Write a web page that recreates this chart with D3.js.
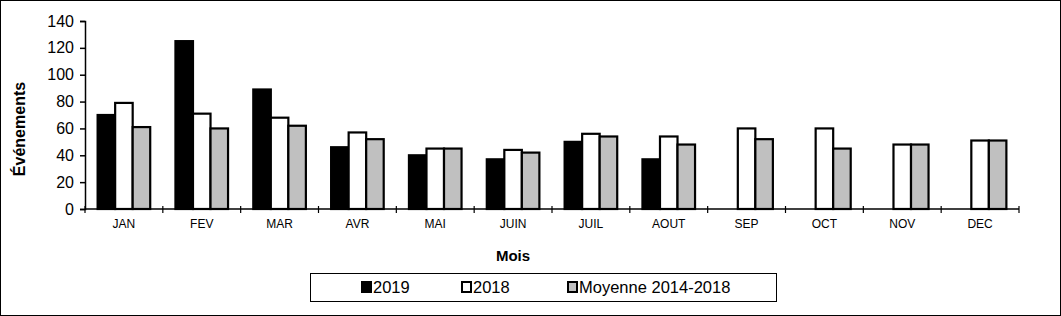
<!DOCTYPE html>
<html>
<head>
<meta charset="utf-8">
<script src="https://cdn.jsdelivr.net/npm/d3@7"></script>
<style>
body { margin: 0; background: #fff; }
svg { font-family: Arial, "Liberation Sans", sans-serif; }
</style>
</head>
<body>
<div id="chart"></div>
<script>
// donnees
var months = ["JAN", "FEV", "MAR", "AVR", "MAI", "JUIN", "JUIL", "AOUT", "SEP", "OCT", "NOV", "DEC"];
var series = ["2019", "2018", "Moyenne 2014-2018"];
var colors = ["#000000", "#ffffff", "#c0c0c0"];
var v2019 = [70, 125, 89, 46, 40, 37, 50, 37, null, null, null, null];
var v2018 = [79, 71, 68, 57, 45, 44, 56, 54, 60, 60, 48, 51];
var vMoy = [61, 60, 62, 52, 45, 42, 54, 48, 52, 45, 48, 51];
var yTicks = [0, 20, 40, 60, 80, 100, 120, 140];

var width = 1061, height = 316;
var plotLeft = 85, plotRight = 1019, plotTop = 21, plotBottom = 209;

var svg = d3.select("#chart").append("svg")
            .attr("width", width)
            .attr("height", height);

svg.append("rect")
   .attr("x", 0.5).attr("y", 0.5)
   .attr("width", width - 1).attr("height", height - 1)
   .style("fill", "#fff")
   .style("stroke", "#000")
   .style("stroke-width", 1);

var x0 = d3.scaleBand().domain(months).range([plotLeft, plotRight]).padding(0);
var x1 = d3.scaleBand().domain(series).range([0, x0.bandwidth()])
           .paddingInner(0).paddingOuter(0.72);
var y = d3.scaleLinear().domain([0, 140]).range([plotBottom, plotTop]);

var rows = months.map(function(m, i){
	return {month: m, values: [v2019[i], v2018[i], vMoy[i]]};
});

// barres
var groups = svg.selectAll("g.month")
	.data(rows)
	.enter()
	.append("g")
	.attr("class", "month")
	.attr("transform", function(d){return "translate(" + x0(d.month) + ",0)";});

groups.selectAll("rect")
	.data(function(d){
		return d.values.map(function(v, j){return {s: series[j], v: v, c: colors[j]};})
		               .filter(function(e){return e.v !== null;});
	})
	.enter()
	.append("rect")
	.attr("x", function(d){return x1(d.s);})
	.attr("y", function(d){return y(d.v);})
	.attr("width", x1.bandwidth())
	.attr("height", function(d){return plotBottom - y(d.v);})
	.style("fill", function(d){return d.c;})
	.style("stroke", "#000")
	.style("stroke-width", 2.2);

// axe y
var yAxis = svg.append("g")
	.attr("transform", "translate(" + plotLeft + ",0)")
	.call(d3.axisLeft(y).tickValues(yTicks).tickSize(5).tickPadding(6));
yAxis.select(".domain").style("stroke", "#000").style("stroke-width", 1.5);
yAxis.selectAll(".tick line").style("stroke", "#000").style("stroke-width", 1.5);
yAxis.selectAll("text")
	.style("font-family", "Arial, 'Liberation Sans', sans-serif")
	.style("font-size", "16px")
	.style("fill", "#000");

// axe x
svg.append("line")
	.attr("x1", plotLeft).attr("x2", plotRight)
	.attr("y1", plotBottom).attr("y2", plotBottom)
	.style("stroke", "#000")
	.style("stroke-width", 1.5);

var bounds = months.map(function(m){return x0(m);}).concat([plotRight]);
svg.selectAll("line.xtick")
	.data(bounds)
	.enter()
	.append("line")
	.attr("class", "xtick")
	.attr("x1", function(d){return d;})
	.attr("x2", function(d){return d;})
	.attr("y1", plotBottom - 3)
	.attr("y2", plotBottom + 4)
	.style("stroke", "#000")
	.style("stroke-width", 1.2);

svg.selectAll("text.xlab")
	.data(months)
	.enter()
	.append("text")
	.attr("class", "xlab")
	.attr("x", function(d){return x0(d) + x0.bandwidth() / 2;})
	.attr("y", 228)
	.style("text-anchor", "middle")
	.style("font-size", "12px")
	.text(function(d){return d;});

// titres
svg.append("text")
	.attr("transform", "translate(25,129) rotate(-90)")
	.style("text-anchor", "middle")
	.style("font-weight", "bold")
	.style("font-size", "16px")
	.text("Événements");

svg.append("text")
	.attr("x", 513)
	.attr("y", 261)
	.style("text-anchor", "middle")
	.style("font-weight", "bold")
	.style("font-size", "15px")
	.text("Mois");

// legende
var legend = svg.append("g");
legend.append("rect")
	.attr("x", 310.5).attr("y", 273.5)
	.attr("width", 466).attr("height", 28)
	.style("fill", "#fff")
	.style("stroke", "#000")
	.style("stroke-width", 1);

var legendX = [361, 461, 567];
var items = legend.selectAll("g.item")
	.data(series)
	.enter()
	.append("g")
	.attr("class", "item")
	.attr("transform", function(d, i){return "translate(" + legendX[i] + ",0)";});

items.append("rect")
	.attr("x", 1).attr("y", 282)
	.attr("width", 9).attr("height", 10)
	.style("fill", function(d, i){return colors[i];})
	.style("stroke", "#000")
	.style("stroke-width", 2);

items.append("text")
	.attr("x", 12)
	.attr("y", 293)
	.style("font-size", "16.5px")
	.text(function(d){return d;});
</script>
</body>
</html>
